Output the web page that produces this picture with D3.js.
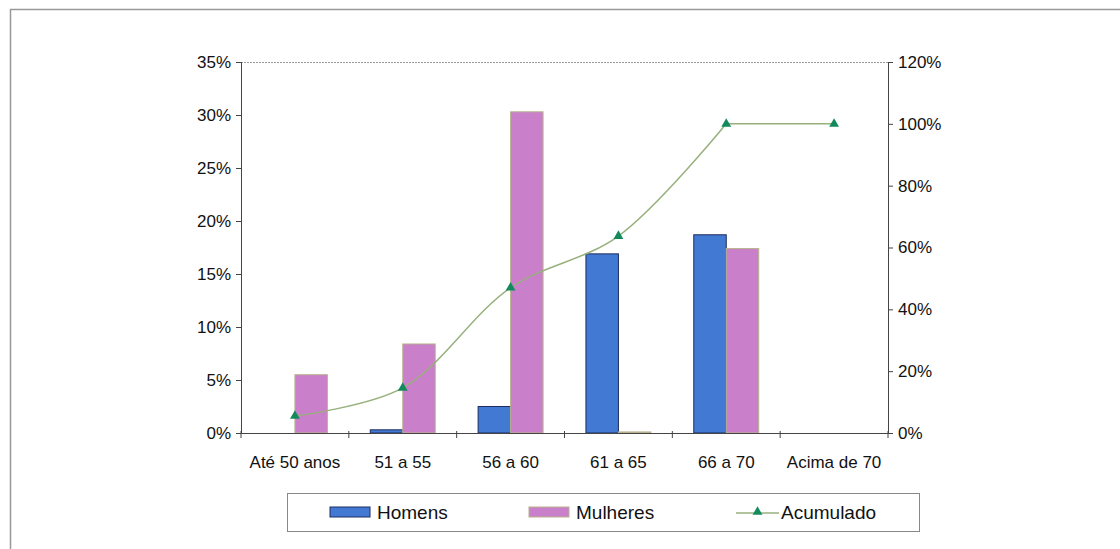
<!DOCTYPE html>
<html><head><meta charset="utf-8">
<script src="https://cdn.jsdelivr.net/npm/d3@7/dist/d3.min.js"></script>
<style>body{margin:0;background:#fff;} text{font-family:"Liberation Sans",Arial,sans-serif;fill:#111;}</style>
</head><body>
<svg id="c" width="1120" height="549"></svg>
<script>
const categories = ["Até 50 anos","51 a 55","56 a 60","61 a 65","66 a 70","Acima de 70"];
const homens = [0, 0.003, 0.025, 0.169, 0.187, 0];
const mulheres = [0.055, 0.084, 0.303, 0.001, 0.174, 0];
const acumulado = [0.055, 0.146, 0.47, 0.637, 1.0, 1.0];
const leftTicks = [0,0.05,0.10,0.15,0.20,0.25,0.30,0.35];
const rightTicks = [0,0.2,0.4,0.6,0.8,1.0,1.2];
const seriesNames = ["Homens","Mulheres","Acumulado"];

const svg = d3.select("#c");
const L=241, R=888, T=62, B=433;
svg.append("path").attr("d","M10.5,549 L10.5,9.5 L1120,9.5").attr("fill","none").attr("stroke","#999").attr("stroke-width",1.5);

const x = d3.scaleBand().domain(categories).range([L,R]);
const xs = d3.scaleBand().domain(["h","m"]).range([0,x.bandwidth()]).paddingInner(0).paddingOuter(0.66);
const yL = d3.scaleLinear().domain([0,0.35]).range([B,T]);
const yR = d3.scaleLinear().domain([0,1.2]).range([B,T]);

svg.append("line").attr("x1",L).attr("x2",R).attr("y1",T+0.5).attr("y2",T+0.5).attr("stroke","#999").attr("stroke-dasharray","2,1");

const fmt = d3.format(".0%");
const gl = svg.append("g").attr("transform",`translate(${L},0)`)
  .call(d3.axisLeft(yL).tickValues(leftTicks).tickFormat(fmt).tickSize(5).tickPadding(5));
const gr = svg.append("g").attr("transform",`translate(${R},0)`)
  .call(d3.axisRight(yR).tickValues(rightTicks).tickFormat(fmt).tickSize(5).tickPadding(5));
[gl,gr].forEach(g=>{g.selectAll("text").style("font-size","17px");g.selectAll("path,line").attr("stroke","#444");});

const bars = svg.append("g");
categories.forEach((c,i)=>{
  if(homens[i]>0) bars.append("rect").attr("x",x(c)+xs("h")).attr("width",xs.bandwidth())
    .attr("y",yL(homens[i])).attr("height",B-yL(homens[i]))
    .attr("fill","#4279d2").attr("stroke","#1c2c60").attr("stroke-width",1);
  if(mulheres[i]>0) bars.append("rect").attr("x",x(c)+xs("m")).attr("width",xs.bandwidth())
    .attr("y",yL(mulheres[i])).attr("height",B-yL(mulheres[i]))
    .attr("fill","#ca7fca").attr("stroke","#b8b48c").attr("stroke-width",1);
});

const gx = svg.append("g").attr("transform",`translate(0,${B})`)
  .call(d3.axisBottom(x).tickSize(0).tickPadding(23));
gx.selectAll("text").style("font-size","17px");
gx.selectAll("path").attr("stroke","#444");
const edges = categories.map(c=>x(c)).concat([R]);
svg.append("g").selectAll("line").data(edges).join("line")
  .attr("x1",d=>d).attr("x2",d=>d).attr("y1",B-2).attr("y2",B+5).attr("stroke","#444");

// accumulated line: smoothed through the rising part, straight on the plateau
const cx = i => x(categories[i])+x.bandwidth()/2;
const pts = acumulado.map((d,i)=>[cx(i), yR(d)]);
const smooth = d3.line().curve(d3.curveCatmullRom.alpha(0.5));
svg.append("path").attr("d",smooth(pts.slice(0,5))).attr("fill","none").attr("stroke","#98b07c").attr("stroke-width",1.5);
svg.append("path").attr("d",d3.line()(pts.slice(4))).attr("fill","none").attr("stroke","#98b07c").attr("stroke-width",1.5);
const tri = d3.symbol().type(d3.symbolTriangle).size(42);
svg.append("g").selectAll("path").data(pts).join("path")
  .attr("transform",d=>`translate(${d[0]},${d[1]})`)
  .attr("d",tri).attr("fill","#138a5c");

const lg = svg.append("g");
lg.append("rect").attr("x",287.5).attr("y",493.5).attr("width",632).attr("height",38).attr("fill","#fff").attr("stroke","#888");
const ly = 512;
lg.append("rect").attr("x",330).attr("y",ly-5).attr("width",40).attr("height",10).attr("fill","#4279d2").attr("stroke","#1c2c60");
lg.append("text").attr("x",377).attr("y",ly).attr("dy","0.35em").style("font-size","19px").text(seriesNames[0]);
lg.append("rect").attr("x",529).attr("y",ly-5).attr("width",40).attr("height",10).attr("fill","#ca7fca").attr("stroke","#b8b48c");
lg.append("text").attr("x",576).attr("y",ly).attr("dy","0.35em").style("font-size","19px").text(seriesNames[1]);
lg.append("line").attr("x1",736).attr("x2",779).attr("y1",ly+1).attr("y2",ly+1).attr("stroke","#98b07c").attr("stroke-width",1.5);
lg.append("path").attr("transform",`translate(757.5,${ly})`).attr("d",tri).attr("fill","#138a5c");
lg.append("text").attr("x",781).attr("y",ly).attr("dy","0.35em").style("font-size","19px").text(seriesNames[2]);
</script>
</body></html>
